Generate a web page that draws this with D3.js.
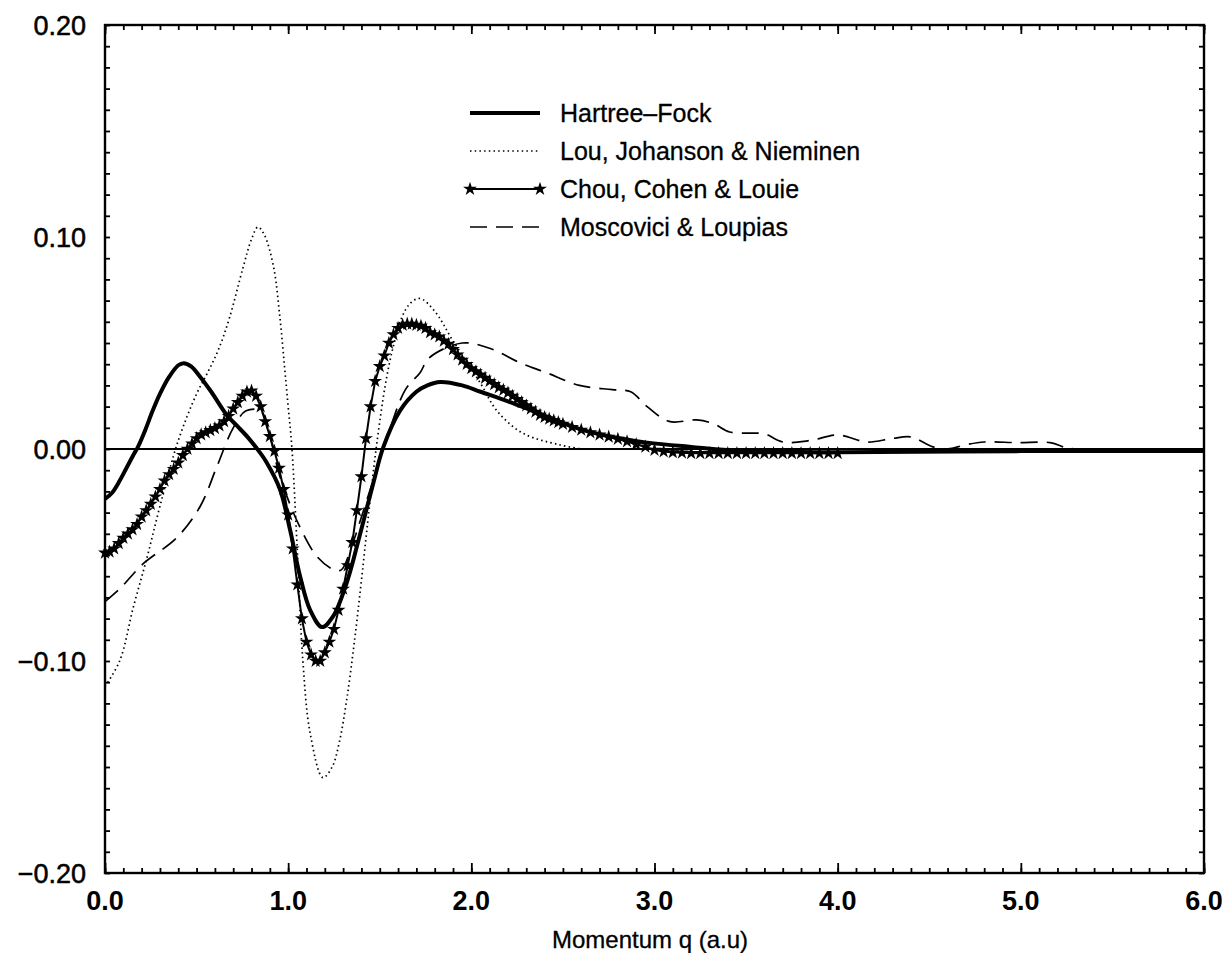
<!DOCTYPE html>
<html>
<head>
<meta charset="utf-8">
<script src="https://cdn.jsdelivr.net/npm/d3@7/dist/d3.min.js"></script>
<style>
  body { margin: 0; background: #fff; }
  svg { font-family: "Liberation Sans", Arial, sans-serif; }
</style>
</head>
<body>
<svg id="viz" width="1227" height="953"></svg>
<script>
// ---- data ----
var hfQ   = [0.00, 0.04, 0.08, 0.12, 0.16, 0.18, 0.22, 0.26, 0.30, 0.35, 0.40, 0.43, 0.47, 0.52, 0.58, 0.665, 0.72, 0.78, 0.84, 0.88, 0.955, 1.01, 1.065, 1.12, 1.185, 1.245, 1.32, 1.39, 1.465, 1.52, 1.61, 1.70, 1.76, 1.83, 1.95, 2.05, 2.20, 2.32, 2.45, 2.59, 2.75, 2.96, 3.20, 3.50, 4.00, 5.00, 6.00];
var hfVal = [-0.0236, -0.0205, -0.0150, -0.0085, -0.002, 0.001, 0.009, 0.018, 0.026, 0.034, 0.0395, 0.0405, 0.039, 0.034, 0.027, 0.016, 0.011, 0.0055, -0.001, -0.006, -0.019, -0.038, -0.060, -0.076, -0.084, -0.079, -0.063, -0.041, -0.016, 0.001, 0.018, 0.027, 0.030, 0.0316, 0.0300, 0.0270, 0.0225, 0.0185, 0.0140, 0.0095, 0.0060, 0.0030, 0.001, -0.001, -0.0015, -0.001, -0.001];

var louQ   = [0.00, 0.08, 0.155, 0.23, 0.30, 0.40, 0.50, 0.56, 0.62, 0.68, 0.755, 0.80, 0.835, 0.87, 0.92, 0.955, 0.98, 1.00, 1.02, 1.05, 1.08, 1.12, 1.19, 1.24, 1.28, 1.32, 1.36, 1.40, 1.44, 1.48, 1.53, 1.57, 1.62, 1.67, 1.72, 1.80, 1.90, 2.05, 2.14, 2.28, 2.48, 2.60];
var louVal = [-0.112, -0.100, -0.0745, -0.051, -0.027, 0.004, 0.026, 0.036, 0.047, 0.062, 0.086, 0.099, 0.1047, 0.101, 0.086, 0.062, 0.039, 0.020, 0.001, -0.048, -0.0995, -0.134, -0.155, -0.150, -0.138, -0.118, -0.092, -0.062, -0.030, 0.000, 0.030, 0.047, 0.062, 0.069, 0.071, 0.065, 0.051, 0.031, 0.018, 0.0075, 0.002, 0.000];

var chouQ = [0.000, 0.025, 0.050, 0.075, 0.100, 0.125, 0.150, 0.175, 0.200, 0.225, 0.250, 0.275, 0.300, 0.325, 0.350, 0.375, 0.400, 0.425, 0.450, 0.475,
             0.500, 0.525, 0.550, 0.575, 0.600, 0.625, 0.650, 0.675, 0.700, 0.725, 0.750, 0.775, 0.800, 0.825, 0.850, 0.875, 0.900, 0.925, 0.950, 0.975,
             1.000, 1.025, 1.050, 1.075, 1.100, 1.125, 1.150, 1.175, 1.200, 1.225, 1.250, 1.275, 1.300, 1.325, 1.350, 1.375, 1.400, 1.425, 1.450, 1.475,
             1.500, 1.525, 1.550, 1.575, 1.600, 1.625, 1.650, 1.675, 1.700, 1.725, 1.750, 1.775, 1.800, 1.825, 1.850, 1.875, 1.900, 1.925, 1.950, 1.975,
             2.000, 2.025, 2.050, 2.075, 2.100, 2.125, 2.150, 2.175, 2.200, 2.225, 2.250, 2.275, 2.300, 2.325, 2.350, 2.375, 2.400, 2.425, 2.450, 2.475,
             2.500, 2.550, 2.600, 2.650, 2.700, 2.750, 2.800, 2.850, 2.900, 2.950, 3.000, 3.050, 3.100, 3.150, 3.200, 3.250, 3.300, 3.350, 3.400, 3.450,
             3.500, 3.550, 3.600, 3.650, 3.700, 3.750, 3.800, 3.850, 3.900, 3.950, 4.000];
var chouVal = [-0.049, -0.0485, -0.047, -0.0445, -0.042, -0.040, -0.038, -0.0355, -0.032, -0.029, -0.026, -0.0225, -0.019, -0.015, -0.012, -0.0095, -0.0065, -0.003, 0.000, 0.0025,
               0.005, 0.0068, 0.0078, 0.0088, 0.0098, 0.011, 0.013, 0.0155, 0.019, 0.022, 0.025, 0.027, 0.0275, 0.025, 0.020, 0.013, 0.006, -0.001, -0.009, -0.019,
               -0.031, -0.047, -0.064, -0.080, -0.091, -0.097, -0.100, -0.100, -0.096, -0.091, -0.085, -0.076, -0.066, -0.055, -0.044, -0.029, -0.013, 0.005, 0.020, 0.032,
               0.039, 0.044, 0.050, 0.054, 0.057, 0.0585, 0.059, 0.059, 0.0585, 0.058, 0.057, 0.055, 0.054, 0.053, 0.051, 0.0495, 0.047, 0.0445, 0.042, 0.040,
               0.038, 0.0365, 0.035, 0.0335, 0.032, 0.0305, 0.029, 0.0278, 0.0265, 0.025, 0.0235, 0.022, 0.0205, 0.019, 0.0175, 0.016, 0.015, 0.0142, 0.0134, 0.0126,
               0.0118, 0.0103, 0.009, 0.0078, 0.0067, 0.0057, 0.0047, 0.0035, 0.0022, 0.001, -0.0005, -0.0012, -0.0016, -0.0018, -0.002, -0.002, -0.002, -0.002, -0.002, -0.002,
               -0.002, -0.002, -0.002, -0.002, -0.002, -0.002, -0.002, -0.002, -0.002, -0.002, -0.002];

var mlQ   = [0.00, 0.08, 0.21, 0.39, 0.52, 0.61, 0.70, 0.77, 0.85, 0.90, 0.955, 1.065, 1.16, 1.25, 1.29, 1.35, 1.43, 1.52, 1.64, 1.72, 1.77, 1.95, 2.10, 2.27, 2.41, 2.59, 2.77, 2.87, 2.96, 3.08, 3.23, 3.32, 3.41, 3.52, 3.60, 3.70, 3.85, 4.00, 4.16, 4.30, 4.40, 4.52, 4.60, 4.70, 4.80, 4.98, 5.16, 5.25, 5.30];
var mlVal = [-0.072, -0.066, -0.054, -0.042, -0.027, -0.0085, 0.010, 0.018, 0.018, 0.006, -0.013, -0.037, -0.051, -0.057, -0.057, -0.045, -0.024, 0.000, 0.028, 0.036, 0.043, 0.050, 0.0475, 0.0405, 0.036, 0.030, 0.028, 0.027, 0.020, 0.013, 0.0137, 0.012, 0.008, 0.0075, 0.0072, 0.0033, 0.004, 0.0066, 0.0033, 0.005, 0.0057, 0.001, 0.000, 0.002, 0.0033, 0.003, 0.003, 0.0005, 0.000];

var seriesNames = ["Hartree\u2013Fock", "Lou, Johanson & Nieminen", "Chou, Cohen & Louie", "Moscovici & Loupias"];
var xTickLabels = ["0.0", "1.0", "2.0", "3.0", "4.0", "5.0", "6.0"];
var yTickLabels = ["\u22120.20", "\u22120.10", "0.00", "0.10", "0.20"];

var margins = {top: 25, right: 23, bottom: 80, left: 105};

function zip(q, v){
  return q.map(function(d, i){ return {q: d, v: v[i]}; });
}

function main(){
  var svg = d3.select("#viz"),
      width = +svg.attr("width") - margins.left - margins.right,
      height = +svg.attr("height") - margins.top - margins.bottom,
      g = svg.append("g").attr("transform", "translate(" + margins.left + "," + margins.top + ")");

  var xScale = d3.scaleLinear().domain([0, 6]).range([0, width]);
  var yScale = d3.scaleLinear().domain([-0.2, 0.2]).range([height, 0]);

  // minor ticks (inward) on all four sides
  var xMinor = d3.range(0, 61).map(function(i){ return i / 10; });
  var yMinor = d3.range(-20, 21).map(function(i){ return i / 100; });
  var xMajor = xTickLabels.map(Number);
  var yMajor = yTickLabels.map(function(s){ return +s.replace("\u2212", "-"); });

  function tickStyle(sel){
    sel.select(".domain").remove();
    sel.selectAll(".tick line").attr("stroke", "#000").attr("stroke-width", 1.8);
    sel.selectAll(".tick text").remove();
  }
  g.append("g").attr("transform", "translate(0," + height + ")")
    .call(d3.axisBottom(xScale).tickValues(xMinor).tickSize(-5)).call(tickStyle);
  g.append("g").attr("transform", "translate(0," + height + ")")
    .call(d3.axisBottom(xScale).tickValues(xMajor).tickSize(-10)).call(tickStyle);
  g.append("g")
    .call(d3.axisTop(xScale).tickValues(xMinor).tickSize(-5)).call(tickStyle);
  g.append("g")
    .call(d3.axisTop(xScale).tickValues(xMajor).tickSize(-9)).call(tickStyle);
  g.append("g")
    .call(d3.axisLeft(yScale).tickValues(yMinor).tickSize(-5)).call(tickStyle);
  g.append("g").attr("transform", "translate(" + width + ",0)")
    .call(d3.axisRight(yScale).tickValues(yMinor).tickSize(-5)).call(tickStyle);

  // frame
  g.append("rect")
    .attr("width", width).attr("height", height)
    .attr("fill", "none").attr("stroke", "#000").attr("stroke-width", 2.4);

  // tick labels
  g.selectAll(".xlab").data(xTickLabels).enter().append("text")
    .attr("class", "xlab")
    .attr("x", function(d){ return xScale(+d); })
    .attr("y", height + 37)
    .attr("text-anchor", "middle")
    .attr("font-size", 27).attr("font-weight", "bold")
    .text(function(d){ return d; });
  g.selectAll(".ylab").data(yTickLabels).enter().append("text")
    .attr("class", "ylab")
    .attr("x", -19)
    .attr("y", function(d, i){ return yScale(yMajor[i]) + 10; })
    .attr("text-anchor", "end")
    .attr("font-size", 27)
    .attr("stroke", "#000").attr("stroke-width", 0.5)
    .text(function(d){ return d; });

  svg.append("text")
    .attr("x", 650).attr("y", 948)
    .attr("text-anchor", "middle")
    .attr("font-size", 24)
    .attr("stroke", "#000").attr("stroke-width", 0.3)
    .text("Momentum q (a.u)");

  // zero line
  g.append("line")
    .attr("x1", 0).attr("x2", width)
    .attr("y1", yScale(0)).attr("y2", yScale(0))
    .attr("stroke", "#000").attr("stroke-width", 1.8);

  var smooth = d3.line()
    .x(function(d){ return xScale(d.q); })
    .y(function(d){ return yScale(d.v); })
    .curve(d3.curveCatmullRom.alpha(0.5));
  var straight = d3.line()
    .x(function(d){ return xScale(d.q); })
    .y(function(d){ return yScale(d.v); });

  var plot = g.append("g");

  plot.append("path").datum(zip(mlQ, mlVal))
    .attr("d", smooth).attr("fill", "none")
    .attr("stroke", "#000").attr("stroke-width", 1.7)
    .attr("stroke-dasharray", "17,9");

  plot.append("path").datum(zip(louQ, louVal))
    .attr("d", smooth).attr("fill", "none")
    .attr("stroke", "#000").attr("stroke-width", 1.7)
    .attr("stroke-dasharray", "1.5,3.2");

  var chou = zip(chouQ, chouVal);
  plot.append("path").datum(chou)
    .attr("d", straight).attr("fill", "none")
    .attr("stroke", "#000").attr("stroke-width", 2);
  plot.selectAll(".chouMark").data(chou).enter().append("path")
    .attr("class", "chouMark")
    .attr("transform", function(d){ return "translate(" + xScale(d.q) + "," + yScale(d.v) + ")"; })
    .attr("d", d3.symbol().type(d3.symbolStar).size(60))
    .attr("fill", "#000");

  plot.append("path").datum(zip(hfQ, hfVal))
    .attr("d", smooth).attr("fill", "none")
    .attr("stroke", "#000").attr("stroke-width", 4)
    .attr("stroke-linejoin", "round");

  // legend
  var legend = svg.append("g").attr("transform", "translate(470,113)");
  var rowGap = 38;
  var styles = [
    {w: 4, dash: null},
    {w: 1.7, dash: "1.5,3.2"},
    {w: 2, dash: null},
    {w: 1.7, dash: "17,9"}
  ];
  seriesNames.forEach(function(name, i){
    var row = legend.append("g").attr("transform", "translate(0," + (i * rowGap) + ")");
    var ln = row.append("line").attr("x1", 0).attr("x2", 70).attr("y1", 0).attr("y2", 0)
      .attr("stroke", "#000").attr("stroke-width", styles[i].w);
    if(styles[i].dash){ ln.attr("stroke-dasharray", styles[i].dash); }
    if(i === 2){
      row.selectAll(".m").data([0, 70]).enter().append("path")
        .attr("transform", function(d){ return "translate(" + d + ",0)"; })
        .attr("d", d3.symbol().type(d3.symbolStar).size(60));
    }
    row.append("text").attr("x", 90).attr("y", 9)
      .attr("font-size", 25)
      .attr("stroke", "#000").attr("stroke-width", 0.3)
      .text(name);
  });
}

main();
</script>
</body>
</html>
